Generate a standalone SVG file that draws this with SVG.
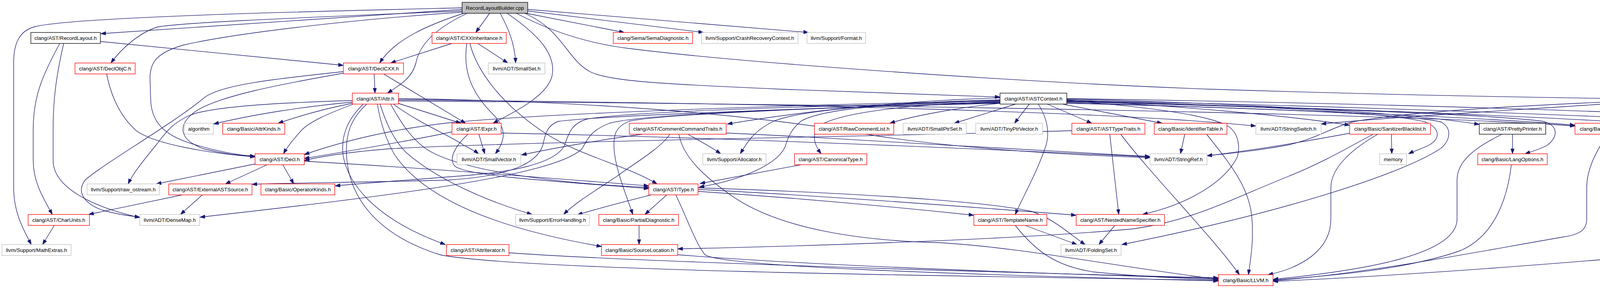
<svg xmlns="http://www.w3.org/2000/svg" width="4786" height="736" viewBox="0 0 4786 736">
<style>
.node rect{fill:#ffffff;stroke-width:1.33}
.node .r{stroke:#ff0000}
.node .g{stroke:#bfbfbf}
.node .k{stroke:#000000}
.node .root{fill:#bfbfbf;stroke:#000000}
.node text{font-family:"Liberation Sans",Arial,Helvetica,sans-serif;font-size:13.33px;text-anchor:middle;fill:#000000}
#edges path{fill:none;stroke:#191970;stroke-width:1.33;marker-end:url(#arr)}
</style>
<defs>
<marker id="arr" markerUnits="userSpaceOnUse" markerWidth="14" markerHeight="10" refX="13" refY="5" orient="auto">
<path d="M0,0.5 L13,5 L0,9.5 z" fill="#191970" stroke="#191970" stroke-width="1"/>
</marker>
</defs>
<rect width="4786" height="736" fill="#ffffff"/>
<g id="edges">
<path d="M1183,24 L258,86"/>
<path d="M1183,20 C850,28 200,42 90,68 C50,78 35,110 35,160 L35,480 C35,545 62,590 80,625"/>
<path d="M1183,28 C800,44 440,58 400,70 C355,85 310,125 284,161"/>
<path d="M1183,31 C900,50 600,85 470,115 C400,135 384,160 384,200 L386,260 C390,320 430,350 500,370 C560,388 610,396 653,400"/>
<path d="M1190,33 C1100,62 1010,100 972,161"/>
<path d="M1198,33 C1120,70 1075,110 1065,160 C1055,200 1022,218 992,238"/>
<path d="M1254,33 L1218,83"/>
<path d="M1280,33 C1300,70 1318,110 1320,161"/>
<path d="M1297,33 C1380,90 1425,140 1413,195 C1400,245 1320,285 1262,315"/>
<path d="M1342,33 L1598,83"/>
<path d="M1351,28 L1801,83"/>
<path d="M1351,24 L2070,83"/>
<path d="M1320,33 C1400,75 1500,112 1620,125 C1900,160 2600,210 3100,228 C3600,244 4000,250 4149,252"/>
<path d="M1341,33 C1440,75 1450,150 1510,183 C1560,208 1700,215 2000,228 C2300,240 2450,245 2560,248"/>
<path d="M257,106 L879,167"/>
<path d="M153,111 C110,190 85,245 85,330 L85,410 C85,465 110,505 134,548"/>
<path d="M163,111 C145,190 136,250 136,330 L136,410 C136,480 240,530 358,556"/>
<path d="M273,189 C285,250 310,300 350,335 C400,370 540,392 653,401"/>
<path d="M1157,111 L1000,161"/>
<path d="M1223,111 L1300,161"/>
<path d="M1195,111 C1183,190 1215,245 1262,292 C1300,330 1292,362 1268,393"/>
<path d="M1203,111 C1220,180 1280,260 1380,330 C1480,400 1600,420 1682,470"/>
<path d="M958,189 L960,238"/>
<path d="M982,189 L1192,315"/>
<path d="M879,183 C720,200 570,215 525,248 C445,315 270,415 218,460 C195,490 215,520 262,537 C300,548 330,552 358,555"/>
<path d="M879,187 C720,215 560,245 500,285 C455,318 455,355 520,380 C570,393 615,398 653,399"/>
<path d="M902,257 C720,262 540,272 485,295 C435,318 420,345 400,370 C372,405 342,440 328,470"/>
<path d="M902,261 C780,272 650,292 547,317"/>
<path d="M902,264 C830,278 770,295 712,315"/>
<path d="M905,266 C840,290 790,312 770,335 C752,355 735,375 726,393"/>
<path d="M930,266 C885,310 874,350 878,395 C890,470 960,560 1140,625"/>
<path d="M939,266 C896,305 885,345 887,395 C892,500 960,600 1130,652 C1350,690 2300,704 3119,716"/>
<path d="M1019,264 L1180,315"/>
<path d="M1000,266 C1030,320 1055,355 1090,380 C1180,440 1450,470 1661,479"/>
<path d="M1007,266 C1080,320 1160,350 1185,370 C1200,378 1215,385 1225,393"/>
<path d="M973,266 C990,320 1010,360 1040,390 C1120,460 1250,515 1362,548"/>
<path d="M966,266 C975,320 990,360 1010,395 C1080,500 1250,580 1540,630"/>
<path d="M1020,252 C1500,258 1900,290 2200,340 C2400,375 2700,395 2944,403"/>
<path d="M1020,255 C1800,262 2800,280 3215,322"/>
<path d="M1020,258 C2000,265 3500,285 4032,322"/>
<path d="M1157,337 C1050,360 900,385 779,405"/>
<path d="M1198,343 C1170,368 1145,405 1165,425 C1200,450 1400,462 1661,482"/>
<path d="M1226,343 L1241,393"/>
<path d="M1283,340 C1800,350 2500,380 2944,401"/>
<path d="M1646,343 C1550,355 1420,378 1335,396"/>
<path d="M1715,343 C1690,380 1620,420 1580,450 C1520,490 1470,520 1443,548"/>
<path d="M1761,343 C1790,360 1820,375 1845,393"/>
<path d="M1738,343 C1748,400 1800,450 1880,505 C2000,585 2200,615 2400,620 C2600,630 2850,680 3119,714"/>
<path d="M1859,340 C2100,350 2300,365 2500,375 C2700,385 2850,395 2944,400"/>
<path d="M1787,489 C2100,510 2350,535 2493,550"/>
<path d="M1787,484 C2100,500 2500,530 2755,550"/>
<path d="M1787,480 C2100,490 2500,510 2640,540 C2700,560 2740,600 2778,625"/>
<path d="M1707,498 L1651,548"/>
<path d="M1667,498 C1600,515 1540,530 1478,549"/>
<path d="M1730,498 C1760,560 1780,620 1804,650 C1830,680 2400,700 3119,718"/>
<path d="M1636,576 L1636,625"/>
<path d="M1735,651 C2100,680 2700,700 3119,712"/>
<path d="M1303,646 C1600,668 2500,695 3119,710"/>
<path d="M2624,576 L2757,625"/>
<path d="M2599,576 C2650,640 2700,680 2800,695 C2950,710 3050,712 3119,714"/>
<path d="M2854,576 L2813,625"/>
<path d="M2841,343 L2864,548"/>
<path d="M2869,343 C2950,450 3100,600 3173,702"/>
<path d="M2744,334 C2200,350 1400,360 1000,380 C900,388 830,398 779,410"/>
<path d="M3033,343 L3022,393"/>
<path d="M3089,343 C3150,420 3200,480 3205,560 C3210,620 3200,670 3196,702"/>
<path d="M3458,340 C3350,360 3200,385 3090,398"/>
<path d="M3527,343 C3480,370 3407,420 3407,480 L3407,560 C3407,640 3330,685 3246,702"/>
<path d="M3562,343 L3563,393"/>
<path d="M3516,343 C3480,360 3400,410 3300,450 C3150,510 3050,565 2900,585 C2600,612 2100,628 1735,636"/>
<path d="M3872,343 L3872,393"/>
<path d="M3845,343 C3780,375 3730,410 3730,460 L3730,560 C3730,650 3500,690 3259,714"/>
<path d="M3869,421 C3860,500 3830,600 3740,640 C3600,690 3400,705 3259,716"/>
<path d="M4113,343 C4100,370 4062,420 4062,480 L4062,560 C4062,590 4040,600 4000,606 C3800,640 3500,700 3259,717"/>
<path d="M4316,255 C4500,272 4700,295 4750,315 C4780,335 4784,360 4784,400 L4784,560 C4784,600 4700,618 4450,635 C4200,655 3700,700 3259,719"/>
<path d="M4212,266 L4144,315"/>
<path d="M4252,266 L4313,315"/>
<path d="M4292,266 L4504,315"/>
<path d="M4316,261 C4500,275 4630,295 4697,317"/>
<path d="M4149,259 C3900,270 3600,285 3460,312 C3400,330 3380,350 3300,370 C3220,385 3150,392 3090,398"/>
<path d="M4149,263 C3900,280 3550,300 3382,317"/>
<path d="M2600,266 L2443,315"/>
<path d="M2635,266 L2597,315"/>
<path d="M2681,266 L2795,315"/>
<path d="M2720,266 L2975,315"/>
<path d="M2658,266 C2680,300 2690,340 2675,380 C2650,450 2620,500 2599,548"/>
<path d="M2731,257 C2900,270 3080,290 3140,320 C3175,340 3173,380 3168,400 C3140,460 3050,520 2925,548"/>
<path d="M2731,253 C3200,265 3600,288 3787,318"/>
<path d="M2731,255 C3000,270 3300,295 3455,320"/>
<path d="M2731,258 C3100,265 3550,285 3650,312 C3690,330 3685,355 3660,370 C3640,380 3620,386 3606,393"/>
<path d="M2731,260 C3200,272 3800,290 3950,310 C3990,320 3990,350 3960,372 C3940,382 3920,388 3904,393"/>
<path d="M2731,262 C3300,280 3800,300 4032,320"/>
<path d="M2731,259 C3400,275 4000,300 4241,318"/>
<path d="M2731,256 C3400,270 4100,295 4466,316"/>
<path d="M2731,252 C3400,262 4300,285 4697,316"/>
<path d="M2731,264 C3200,275 3620,292 3690,312 C3720,330 3710,360 3690,378 C3600,440 3300,540 2872,625"/>
<path d="M2560,255 C2300,262 2050,280 1980,310 C1930,335 1915,360 1895,393"/>
<path d="M2560,257 C2250,265 2100,280 2050,310 C2020,335 2015,360 2010,375 C1990,420 1900,460 1790,478"/>
<path d="M2560,259 C2300,268 2150,290 2100,320 C2075,345 2085,370 2102,393"/>
<path d="M2051,421 L1792,469"/>
<path d="M2560,250 C2300,258 2050,285 1862,317"/>
<path d="M2560,264 C2450,275 2330,298 2278,315"/>
<path d="M2560,262 C2200,272 1700,290 1610,310 C1575,325 1570,345 1572,380 C1575,430 1600,490 1620,548"/>
<path d="M2560,264 C2100,275 1650,290 1560,315 C1510,335 1505,355 1490,380 C1420,450 1000,500 512,555"/>
<path d="M2560,261 C2100,270 1600,285 1500,305 C1460,318 1455,345 1445,372 C1420,420 1300,440 1200,448 C1050,460 930,468 858,475"/>
<path d="M2560,263 C2100,275 1550,295 1430,310 C1400,320 1395,345 1390,370 C1375,420 1300,450 1150,460 C950,466 750,467 645,471"/>
<path d="M2560,258 C2000,268 1400,290 1157,313 C1000,330 880,360 779,395"/>
<path d="M653,419 L400,470"/>
<path d="M684,421 L577,470"/>
<path d="M724,421 L752,470"/>
<path d="M779,412 C1100,430 1400,455 1661,475"/>
<path d="M467,498 L227,548"/>
<path d="M518,498 L462,548"/>
<path d="M139,576 L109,625"/>
</g>
<g id="n_root" class="node"><rect class="root" x="1183" y="6" width="168" height="28"/><text x="1267" y="24.5">RecordLayoutBuilder.cpp</text></g>
<g id="n_recordlayout" class="node"><rect class="k" x="79" y="83" width="178" height="28"/><text x="168" y="101.5">clang/AST/RecordLayout.h</text></g>
<g id="n_cxxinheritance" class="node"><rect class="r" x="1106" y="83" width="190" height="28"/><text x="1201" y="101.5">clang/AST/CXXInheritance.h</text></g>
<g id="n_semadiagnostic" class="node"><rect class="r" x="1570" y="83" width="203" height="28"/><text x="1671.5" y="101.5">clang/Sema/SemaDiagnostic.h</text></g>
<g id="n_crashrecovery" class="node"><rect class="g" x="1796" y="83" width="247" height="28"/><text x="1919.5" y="101.5">llvm/Support/CrashRecoveryContext.h</text></g>
<g id="n_format" class="node"><rect class="g" x="2066" y="83" width="150" height="28"/><text x="2141" y="101.5">llvm/Support/Format.h</text></g>
<g id="n_declobjc" class="node"><rect class="r" x="192" y="161" width="154" height="28"/><text x="269" y="179.5">clang/AST/DeclObjC.h</text></g>
<g id="n_declcxx" class="node"><rect class="r" x="879" y="161" width="154" height="28"/><text x="956" y="179.5">clang/AST/DeclCXX.h</text></g>
<g id="n_smallset" class="node"><rect class="g" x="1250" y="161" width="145" height="28"/><text x="1322.5" y="179.5">llvm/ADT/SmallSet.h</text></g>
<g id="n_attr" class="node"><rect class="r" x="902" y="238" width="118" height="28"/><text x="961" y="256.5">clang/AST/Attr.h</text></g>
<g id="n_astcontext" class="node"><rect class="k" x="2560" y="238" width="171" height="28"/><text x="2645.5" y="256.5">clang/AST/ASTContext.h</text></g>
<g id="n_targetinfo" class="node"><rect class="r" x="4149" y="238" width="167" height="28"/><text x="4232.5" y="256.5">clang/Basic/TargetInfo.h</text></g>
<g id="n_algorithm" class="node"><rect class="g" x="472" y="315" width="74" height="28"/><text x="509" y="333.5">algorithm</text></g>
<g id="n_attrkinds" class="node"><rect class="r" x="570" y="315" width="159" height="28"/><text x="649.5" y="333.5">clang/Basic/AttrKinds.h</text></g>
<g id="n_expr" class="node"><rect class="r" x="1157" y="315" width="126" height="28"/><text x="1220" y="333.5">clang/AST/Expr.h</text></g>
<g id="n_commentcommandtraits" class="node"><rect class="r" x="1611" y="315" width="248" height="28"/><text x="1735" y="333.5">clang/AST/CommentCommandTraits.h</text></g>
<g id="n_rawcommentlist" class="node"><rect class="r" x="2085" y="315" width="203" height="28"/><text x="2186.5" y="333.5">clang/AST/RawCommentList.h</text></g>
<g id="n_smallptrset" class="node"><rect class="g" x="2312" y="315" width="162" height="28"/><text x="2393" y="333.5">llvm/ADT/SmallPtrSet.h</text></g>
<g id="n_tinyptrvector" class="node"><rect class="g" x="2498" y="315" width="171" height="28"/><text x="2583.5" y="333.5">llvm/ADT/TinyPtrVector.h</text></g>
<g id="n_asttypetraits" class="node"><rect class="r" x="2744" y="315" width="187" height="28"/><text x="2837.5" y="333.5">clang/AST/ASTTypeTraits.h</text></g>
<g id="n_identifiertable" class="node"><rect class="r" x="2955" y="315" width="186" height="28"/><text x="3048" y="333.5">clang/Basic/IdentifierTable.h</text></g>
<g id="n_stringswitch" class="node"><rect class="g" x="3215" y="315" width="167" height="28"/><text x="3298.5" y="333.5">llvm/ADT/StringSwitch.h</text></g>
<g id="n_sanitizerblacklist" class="node"><rect class="r" x="3455" y="315" width="207" height="28"/><text x="3558.5" y="333.5">clang/Basic/SanitizerBlacklist.h</text></g>
<g id="n_prettyprinter" class="node"><rect class="k" x="3787" y="315" width="170" height="28"/><text x="3872" y="333.5">clang/AST/PrettyPrinter.h</text></g>
<g id="n_versiontuple" class="node"><rect class="r" x="4032" y="315" width="185" height="28"/><text x="4124.5" y="333.5">clang/Basic/VersionTuple.h</text></g>
<g id="n_addressspaces" class="node"><rect class="k" x="4241" y="315" width="201" height="28"/><text x="4341.5" y="333.5">clang/Basic/AddressSpaces.h</text></g>
<g id="n_intrusiverefcntptr" class="node"><rect class="g" x="4466" y="315" width="205" height="28"/><text x="4568.5" y="333.5">llvm/ADT/IntrusiveRefCntPtr.h</text></g>
<g id="n_vector" class="node"><rect class="g" x="4695" y="315" width="59" height="28"/><text x="4724.5" y="333.5">vector</text></g>
<g id="n_decl" class="node"><rect class="r" x="653" y="393" width="126" height="28"/><text x="716" y="411.5">clang/AST/Decl.h</text></g>
<g id="n_smallvector" class="node"><rect class="g" x="1170" y="393" width="163" height="28"/><text x="1251.5" y="411.5">llvm/ADT/SmallVector.h</text></g>
<g id="n_allocator" class="node"><rect class="g" x="1799" y="393" width="162" height="28"/><text x="1880" y="411.5">llvm/Support/Allocator.h</text></g>
<g id="n_canonicaltype" class="node"><rect class="r" x="2034" y="393" width="185" height="28"/><text x="2126.5" y="411.5">clang/AST/CanonicalType.h</text></g>
<g id="n_stringref" class="node"><rect class="g" x="2944" y="393" width="146" height="28"/><text x="3017" y="411.5">llvm/ADT/StringRef.h</text></g>
<g id="n_memory" class="node"><rect class="g" x="3532" y="393" width="69" height="28"/><text x="3566.5" y="411.5">memory</text></g>
<g id="n_langoptions" class="node"><rect class="r" x="3783" y="393" width="178" height="28"/><text x="3872" y="411.5">clang/Basic/LangOptions.h</text></g>
<g id="n_rawostream" class="node"><rect class="g" x="223" y="470" width="185" height="28"/><text x="315.5" y="488.5">llvm/Support/raw_ostream.h</text></g>
<g id="n_externalastsource" class="node"><rect class="r" x="432" y="470" width="213" height="28"/><text x="538.5" y="488.5">clang/AST/ExternalASTSource.h</text></g>
<g id="n_operatorkinds" class="node"><rect class="r" x="668" y="470" width="189" height="28"/><text x="762.5" y="488.5">clang/Basic/OperatorKinds.h</text></g>
<g id="n_type" class="node"><rect class="r" x="1661" y="470" width="126" height="28"/><text x="1724" y="488.5">clang/AST/Type.h</text></g>
<g id="n_charunits" class="node"><rect class="r" x="72" y="548" width="157" height="28"/><text x="150.5" y="566.5">clang/AST/CharUnits.h</text></g>
<g id="n_densemap" class="node"><rect class="g" x="358" y="548" width="153" height="28"/><text x="434.5" y="566.5">llvm/ADT/DenseMap.h</text></g>
<g id="n_errorhandling" class="node"><rect class="g" x="1320" y="548" width="189" height="28"/><text x="1414.5" y="566.5">llvm/Support/ErrorHandling.h</text></g>
<g id="n_partialdiagnostic" class="node"><rect class="r" x="1533" y="548" width="204" height="28"/><text x="1635" y="566.5">clang/Basic/PartialDiagnostic.h</text></g>
<g id="n_templatename" class="node"><rect class="r" x="2493" y="548" width="187" height="28"/><text x="2586.5" y="566.5">clang/AST/TemplateName.h</text></g>
<g id="n_nestednamespecifier" class="node"><rect class="r" x="2755" y="548" width="226" height="28"/><text x="2868" y="566.5">clang/AST/NestedNameSpecifier.h</text></g>
<g id="n_mathextras" class="node"><rect class="g" x="5" y="625" width="177" height="28"/><text x="93.5" y="643.5">llvm/Support/MathExtras.h</text></g>
<g id="n_attriterator" class="node"><rect class="r" x="1143" y="625" width="160" height="28"/><text x="1223" y="643.5">clang/AST/AttrIterator.h</text></g>
<g id="n_sourcelocation" class="node"><rect class="r" x="1540" y="625" width="195" height="28"/><text x="1637.5" y="643.5">clang/Basic/SourceLocation.h</text></g>
<g id="n_foldingset" class="node"><rect class="g" x="2716" y="625" width="154" height="28"/><text x="2793" y="643.5">llvm/ADT/FoldingSet.h</text></g>
<g id="n_llvm" class="node"><rect class="r" x="3119" y="702" width="140" height="28"/><text x="3189" y="720.5">clang/Basic/LLVM.h</text></g>
</svg>
